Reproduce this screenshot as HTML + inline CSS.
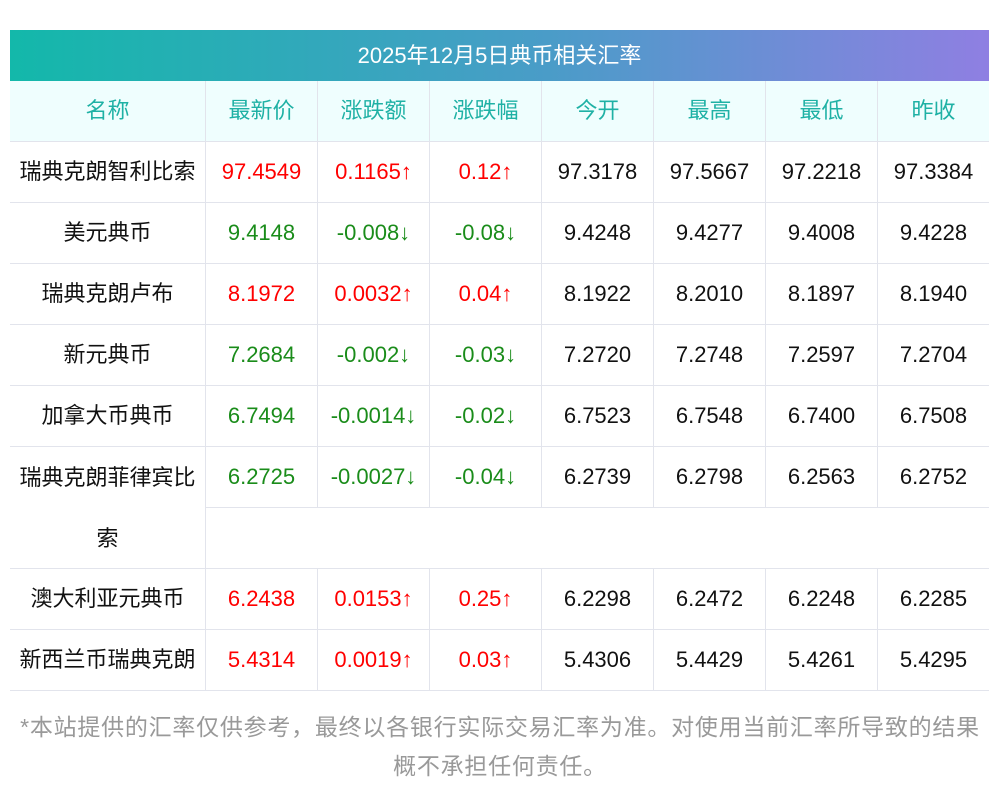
<!DOCTYPE html><html><head><meta charset="utf-8"><style>
body{margin:0;width:1000px;height:793px;background:#fff;position:relative;font-family:"Liberation Sans","Noto Sans CJK SC",sans-serif;overflow:hidden}
.t{position:absolute;left:10px;top:30px;width:979px;height:51px;background:linear-gradient(90deg,#13b8aa,#4a9cc8 55%,#8f7fe2);color:#fff;font-size:22px;line-height:51px;text-align:center}
.c{position:absolute;height:60px;line-height:60px;text-align:center;font-size:22px;color:#111;box-sizing:border-box;border-bottom:1px solid #e2e4ec;white-space:nowrap}
.v{border-left:1px solid #e2e4ec}
.h{background:#effefe;color:#1fb1a5}
.r{color:#f00}.g{color:#1a8c1a}
.f{position:absolute;left:0;width:1000px;text-align:center;font-size:23px;color:#999;white-space:nowrap;letter-spacing:0.75px}
</style></head><body>
<div class="t">2025年12月5日典币相关汇率</div>
<div id="tb"></div>
<div class="f" style="top:708px">*本站提供的汇率仅供参考，最终以各银行实际交易汇率为准。对使用当前汇率所导致的结果</div>
<div class="f" style="top:747px">概不承担任何责任。</div>
<script>
var xs=[10,205,317,429,541,653,765,877,989];
var rows=[
["h","名称","最新价","涨跌额","涨跌幅","今开","最高","最低","昨收"],
["r","瑞典克朗智利比索","97.4549","0.1165↑","0.12↑","97.3178","97.5667","97.2218","97.3384"],
["g","美元典币","9.4148","-0.008↓","-0.08↓","9.4248","9.4277","9.4008","9.4228"],
["r","瑞典克朗卢布","8.1972","0.0032↑","0.04↑","8.1922","8.2010","8.1897","8.1940"],
["g","新元典币","7.2684","-0.002↓","-0.03↓","7.2720","7.2748","7.2597","7.2704"],
["g","加拿大币典币","6.7494","-0.0014↓","-0.02↓","6.7523","6.7548","6.7400","6.7508"],
["g","瑞典克朗菲律宾比","6.2725","-0.0027↓","-0.04↓","6.2739","6.2798","6.2563","6.2752"],
["r","澳大利亚元典币","6.2438","0.0153↑","0.25↑","6.2298","6.2472","6.2248","6.2285"],
["r","新西兰币瑞典克朗","5.4314","0.0019↑","0.03↑","5.4306","5.4429","5.4261","5.4295"]];
var tops=[81,142,203,264,325,386,447,569,630];
var s="";
rows.forEach(function(r,i){var y=tops[i];
for(var j=0;j<8;j++){var cls="c"+(j>0?" v":"")+(i==0?" h":"")+(i>0&&j>0&&j<4?" "+r[0]:"");
var h=61;if(i==6&&j==0)h=122;
s+='<div class="'+cls+'" style="left:'+xs[j]+'px;top:'+y+'px;width:'+(xs[j+1]-xs[j])+'px;height:'+h+'px;'+(i==6&&j==0?'line-height:61px':'')+'">'+r[j+1]+(i==6&&j==0?'<br>索':'')+'</div>';}
});
s+='<div style="position:absolute;left:205px;top:508px;width:784px;height:61px;border-left:1px solid #e2e4ec;border-bottom:1px solid #e2e4ec;box-sizing:border-box"></div>';
document.getElementById("tb").innerHTML=s;
</script>
</body></html>
